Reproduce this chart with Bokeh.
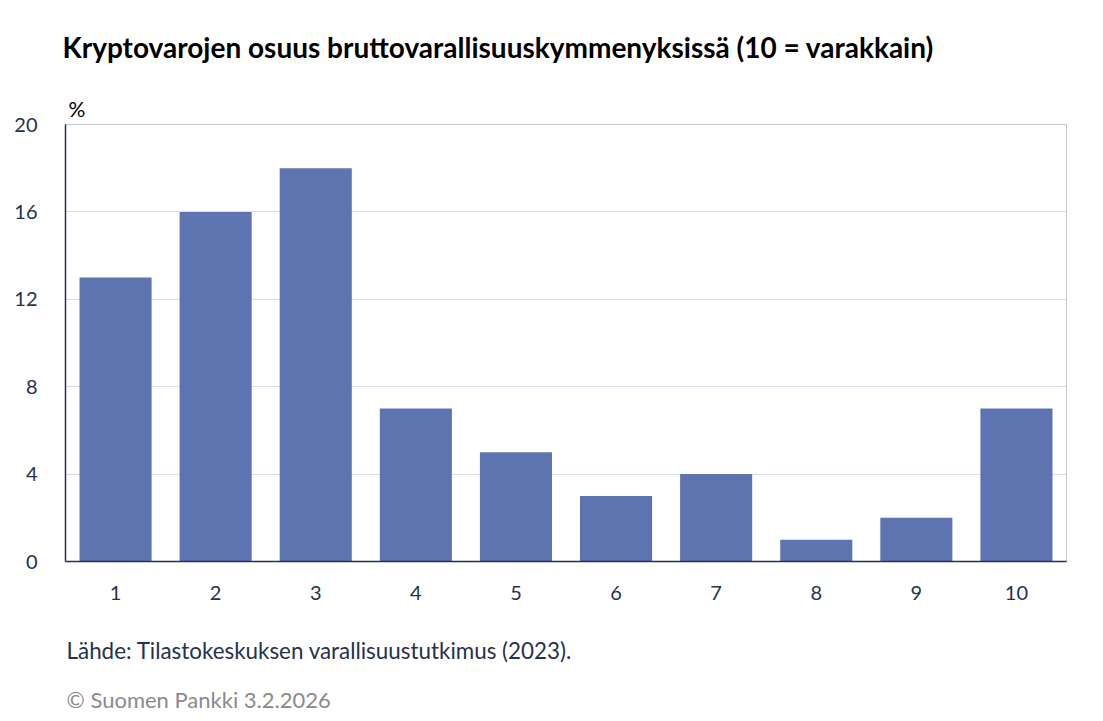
from bokeh.plotting import figure
from bokeh.models import Range1d, FixedTicker, Title, FactorRange
from bokeh.embed import file_html
from bokeh.resources import INLINE

categories = ["1", "2", "3", "4", "5", "6", "7", "8", "9", "10"]
values = [13, 16, 18, 7, 5, 3, 4, 1, 2, 7]
y_ticks = [0, 4, 8, 12, 16, 20]

title_text = "Kryptovarojen osuus bruttovarallisuuskymmenyksissä  (10 = varakkain)"
unit_text = "%"
source_text = "Lähde: Tilastokeskuksen varallisuustutkimus (2023)."
copyright_text = "© Suomen Pankki 3.2.2026"

FONT = "Lato"
NAVY = "#27304f"

W, H = 1095, 719
p = figure(x_range=FactorRange(*categories), y_range=Range1d(0, 20),
           width=W, height=H, output_backend="svg", toolbar_location=None,
           min_border_left=65, min_border_right=29, min_border_top=123,
           min_border_bottom=158)

p.vbar(x=categories, top=values, width=0.72, color="#5e74b0", line_color=None)

p.outline_line_color = "#c4c4c4"
p.outline_line_width = 1
p.background_fill_color = "white"
p.border_fill_color = "white"

p.xgrid.grid_line_color = None
p.ygrid.grid_line_color = "#d9dde9"
p.ygrid.ticker = FixedTicker(ticks=y_ticks)

p.yaxis.ticker = FixedTicker(ticks=y_ticks)
for ax in (p.xaxis, p.yaxis):
    ax.axis_line_color = NAVY
    ax.axis_line_width = 1.5
    ax.major_tick_line_color = None
    ax.minor_tick_line_color = None
    ax.major_label_text_font = FONT
    ax.major_label_text_font_size = "20px"
    ax.major_label_text_color = NAVY
p.yaxis.major_label_standoff = 22
p.xaxis.major_label_standoff = 18

p.add_layout(Title(text=unit_text, align="left", offset=3, standoff=7,
                   text_font=FONT, text_font_style="normal",
                   text_font_size="21px", text_color="black"), "above")
p.add_layout(Title(text=title_text, align="left", offset=-3, standoff=54,
                   text_font=FONT, text_font_style="bold",
                   text_font_size="28px", text_color="black"), "above")
p.add_layout(Title(text=source_text, align="left", offset=1, standoff=64,
                   text_font=FONT, text_font_style="normal",
                   text_font_size="22.4px", text_color=NAVY), "below")
p.add_layout(Title(text=copyright_text, align="left", offset=1, standoff=-24,
                   text_font=FONT, text_font_style="normal",
                   text_font_size="22px", text_color="#8a8a8a"), "below")

open("out.html", "w").write(file_html(p, INLINE))
